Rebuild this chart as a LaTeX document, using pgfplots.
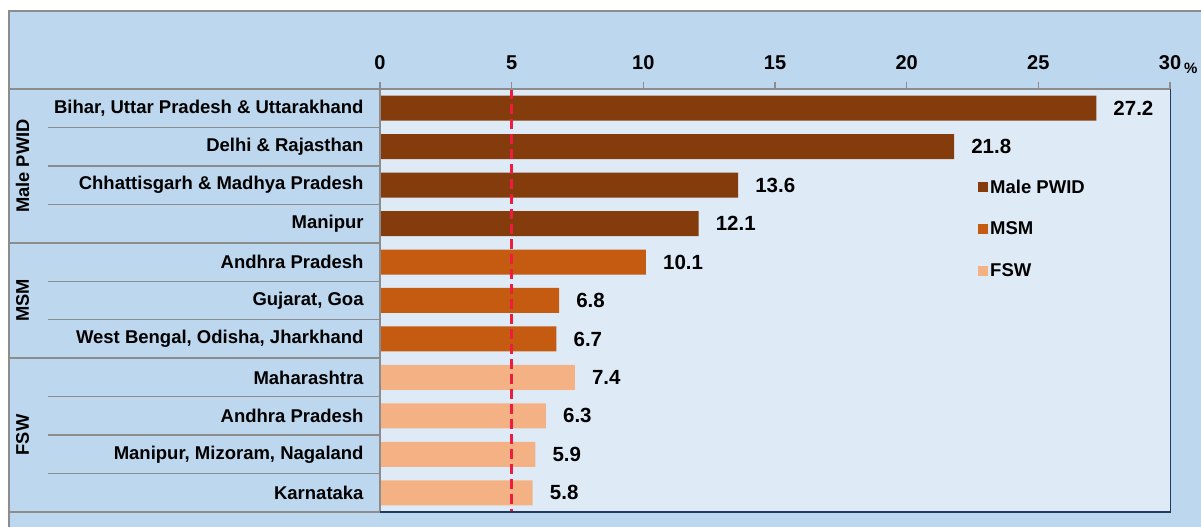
\documentclass[border=0pt]{standalone}
\usepackage{fontspec}
\setmainfont{Liberation Sans}
\usepackage{pgfplots}
\pgfplotsset{compat=1.18}
\definecolor{outerbg}{HTML}{BDD7EE}
\definecolor{innerbg}{HTML}{DEEBF7}
\definecolor{pwid}{HTML}{843C0C}
\definecolor{msm}{HTML}{C55A11}
\definecolor{fsw}{HTML}{F4B183}
\definecolor{gline}{HTML}{8C8C8C}
\definecolor{navy}{HTML}{1F3864}
\definecolor{refred}{HTML}{EE1C3F}
\newcommand{\fs}[1]{\fontsize{#1bp}{#1bp}\selectfont\bfseries}
\begin{document}
\begin{tikzpicture}[x=1bp,y=1bp]
\useasboundingbox (0,0) rectangle (1201,527);
\clip (0,0) rectangle (1201,527);
\fill[white] (0,0) rectangle (1201,527);
\fill[outerbg,draw=gline,line width=1.5bp] (9,-10) rectangle (1215,516);
\begin{axis}[
 at={(380bp,15bp)}, anchor=south west,
 scale only axis, width=790bp, height=423bp,
 xmin=0,xmax=30, ymin=-0.5,ymax=10.5, y dir=reverse,
 xbar, bar width=0.65, bar shift=0pt,
 axis background/.style={fill=innerbg},
 axis line style={draw=none},
 xtick={0,5,...,30}, xticklabels={0,5,10,15,20,25,30},
 xticklabel pos=upper,
 x tick style={draw=none},
 xticklabel style={font=\fs{20}, anchor=south, inner sep=0pt, yshift=19bp},
 ytick={0,...,10},
 yticklabels={Bihar{,} Uttar Pradesh \& Uttarakhand, Delhi \& Rajasthan\hspace{0.278em}, Chhattisgarh \& Madhya Pradesh, Manipur\hspace{0.278em}, Andhra Pradesh, Gujarat{,} Goa, West Bengal{,} Odisha{,} Jharkhand, Maharashtra, Andhra Pradesh, Manipur{,} Mizoram{,} Nagaland, Karnataka},
 y tick style={draw=none},
 yticklabel style={font=\fs{18.5}, anchor=east, inner sep=0pt, xshift=-12bp},
 point meta=explicit symbolic,
 nodes near coords,
 nodes near coords style={font=\fs{20.5}, anchor=west, inner sep=0pt, xshift=17bp, text=black},
 legend style={at={(axis description cs:0.757,0.79)}, anchor=north west, draw=none, fill=none, font=\fs{18.5}, row sep=23bp, inner sep=0pt, cells={anchor=west}},
 legend image code/.code={\fill[#1] (0bp,-5bp) rectangle (10bp,5bp);},
 clip=false,
]
\addplot[fill=pwid, draw=none] coordinates {(27.2,0)[27.2] (21.8,1)[21.8] (13.6,2)[13.6] (12.1,3)[12.1]};
\addplot[fill=msm, draw=none] coordinates {(10.1,4)[10.1] (6.8,5)[6.8] (6.7,6)[6.7]};
\addplot[fill=fsw, draw=none] coordinates {(7.4,7)[7.4] (6.3,8)[6.3] (5.9,9)[5.9] (5.8,10)[5.8]};
\legend{Male PWID, MSM, FSW}
\draw[refred, line width=2.8bp, dash pattern=on 10bp off 5bp] (axis cs:5,-0.5) -- (axis cs:5,10.5);
\end{axis}
% frame lines
\draw[gline, line width=1.5bp] (9,438) -- (1170,438);
\foreach \k in {0,...,6} {\draw[gline, line width=1.3bp] ({380+131.667*\k},438) -- ({380+131.667*\k},445);}
\draw[gline, line width=1.5bp] (380,15) -- (380,438);
\draw[gline, line width=1.5bp] (9,15) -- (380,15);
\foreach \k in {4,7} {\draw[gline, line width=1.5bp] (9,{438-38.4545*\k}) -- (380,{438-38.4545*\k});}
\foreach \k in {1,2,3,5,6,8,9,10} {\draw[gline, line width=1.5bp] (48,{438-38.4545*\k}) -- (380,{438-38.4545*\k});}
\draw[navy, line width=1.5bp] (380,15) -- (1170.5,15) -- (1170.5,438);
% group labels
\node[rotate=90, font=\fs{18.3}] at (22.5,361) {Male PWID};
\node[rotate=90, font=\fs{18.3}] at (22.5,226.5) {MSM};
\node[rotate=90, font=\fs{18.3}] at (22.5,92) {FSW};
\node[font=\fs{15}, anchor=west, inner sep=0pt] at (1184,459) {\%};
\end{tikzpicture}
\end{document}
